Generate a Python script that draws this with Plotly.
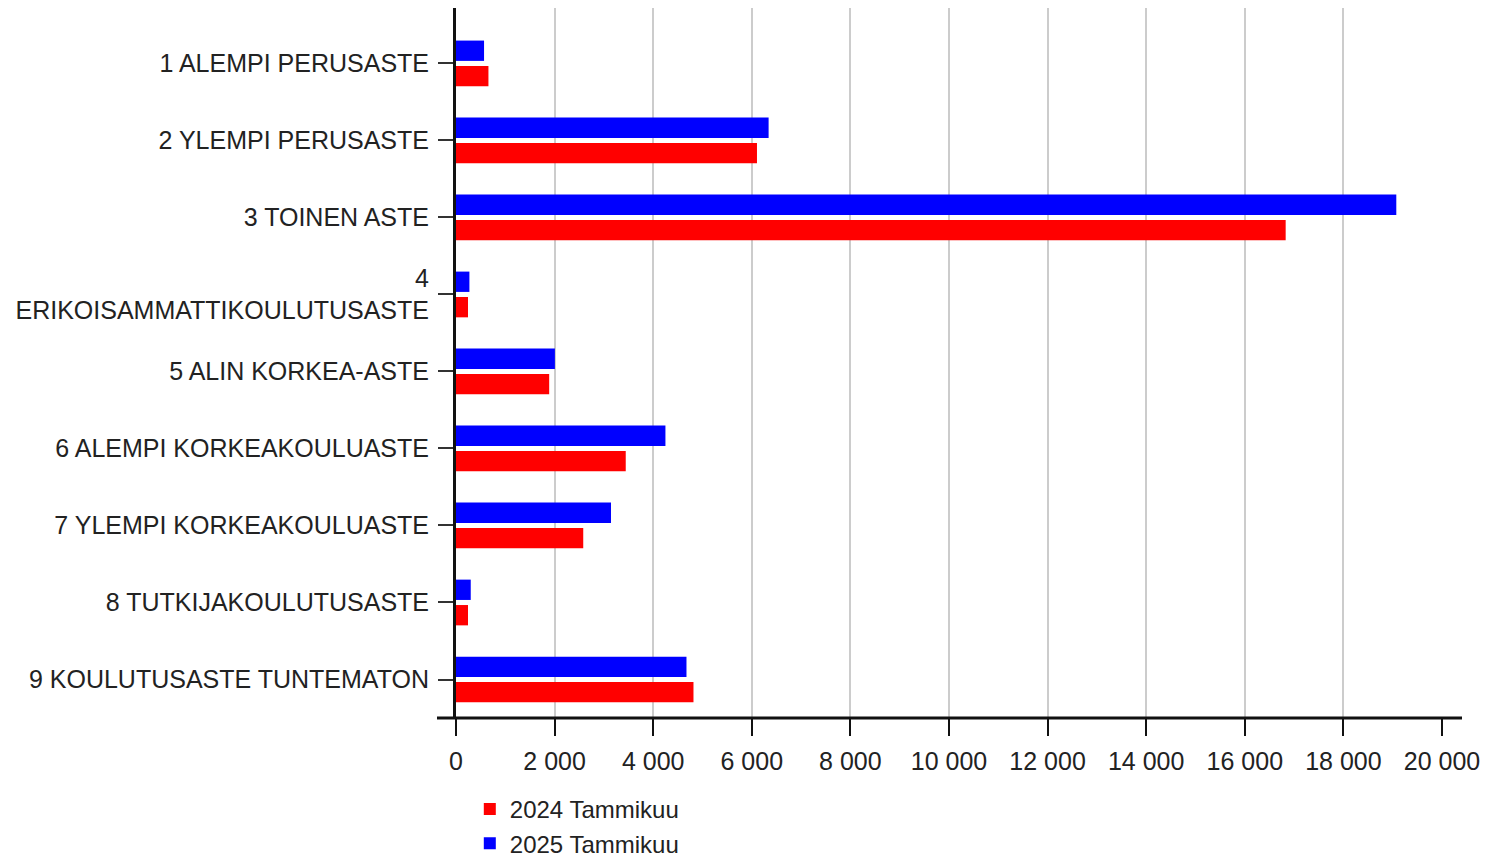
import plotly.graph_objects as go

categories = [
    "1 ALEMPI PERUSASTE",
    "2 YLEMPI PERUSASTE",
    "3 TOINEN ASTE",
    "4<br>ERIKOISAMMATTIKOULUTUSASTE",
    "5 ALIN KORKEA-ASTE",
    "6 ALEMPI KORKEAKOULUASTE",
    "7 YLEMPI KORKEAKOULUASTE",
    "8 TUTKIJAKOULUTUSASTE",
    "9 KOULUTUSASTE TUNTEMATON",
]
values_2024 = [658, 6105, 16829, 244, 1890, 3443, 2581, 244, 4817]
values_2025 = [569, 6341, 19073, 272, 2006, 4248, 3144, 299, 4675]
name_2024 = "2024 Tammikuu"
name_2025 = "2025 Tammikuu"
x_ticks = list(range(0, 20001, 2000))

FONT = "Liberation Sans, Arial, sans-serif"
TXT = "#222222"
FS = 25

fig = go.Figure()
fig.add_trace(go.Bar(
    y=categories, x=values_2025, name=name_2025, orientation="h",
    marker=dict(color="#0000ff", line=dict(width=0)), legendrank=2,
))
fig.add_trace(go.Bar(
    y=categories, x=values_2024, name=name_2024, orientation="h",
    marker=dict(color="#ff0000", line=dict(width=0)), legendrank=1,
))

fig.update_layout(
    width=1501, height=852,
    margin=dict(l=448, r=67, t=0, b=142, pad=0, autoexpand=False),
    paper_bgcolor="white", plot_bgcolor="white",
    barmode="group", bargap=0.34, bargroupgap=0.2,
    separators=", ",
    font=dict(family=FONT, size=FS, color=TXT),
    showlegend=True,
    legend=dict(
        x=0.014, xanchor="left", y=-0.097, yanchor="top",
        font=dict(family=FONT, size=24, color=TXT),
        bgcolor="rgba(0,0,0,0)", tracegroupgap=0,
    ),
    xaxis=dict(
        range=[0, 20000], tickvals=x_ticks, tickformat=",d",
        showgrid=True, gridcolor="#cccccc", gridwidth=2,
        zeroline=False, showline=False,
        ticks="outside", ticklen=17, tickwidth=2, tickcolor="#111111",
        tickfont=dict(family=FONT, size=FS, color=TXT),
        ticklabelstandoff=4, automargin=False,
    ),
    yaxis=dict(
        categoryorder="array", categoryarray=categories,
        range=[8.5, -0.72],
        showgrid=False, zeroline=False,
        showline=True, linecolor="#111111", linewidth=3,
        ticks="outside", ticklen=15, tickwidth=2, tickcolor="#333333",
        tickfont=dict(family=FONT, size=FS, color=TXT),
        ticklabelstandoff=4, automargin=False,
    ),
)

# extended x-axis baseline
fig.add_shape(type="line", xref="paper", yref="paper",
              x0=-19 / 986, x1=1 + 20 / 986, y0=0, y1=0,
              line=dict(color="#111111", width=3), layer="above")

fig.write_html("out.html")
